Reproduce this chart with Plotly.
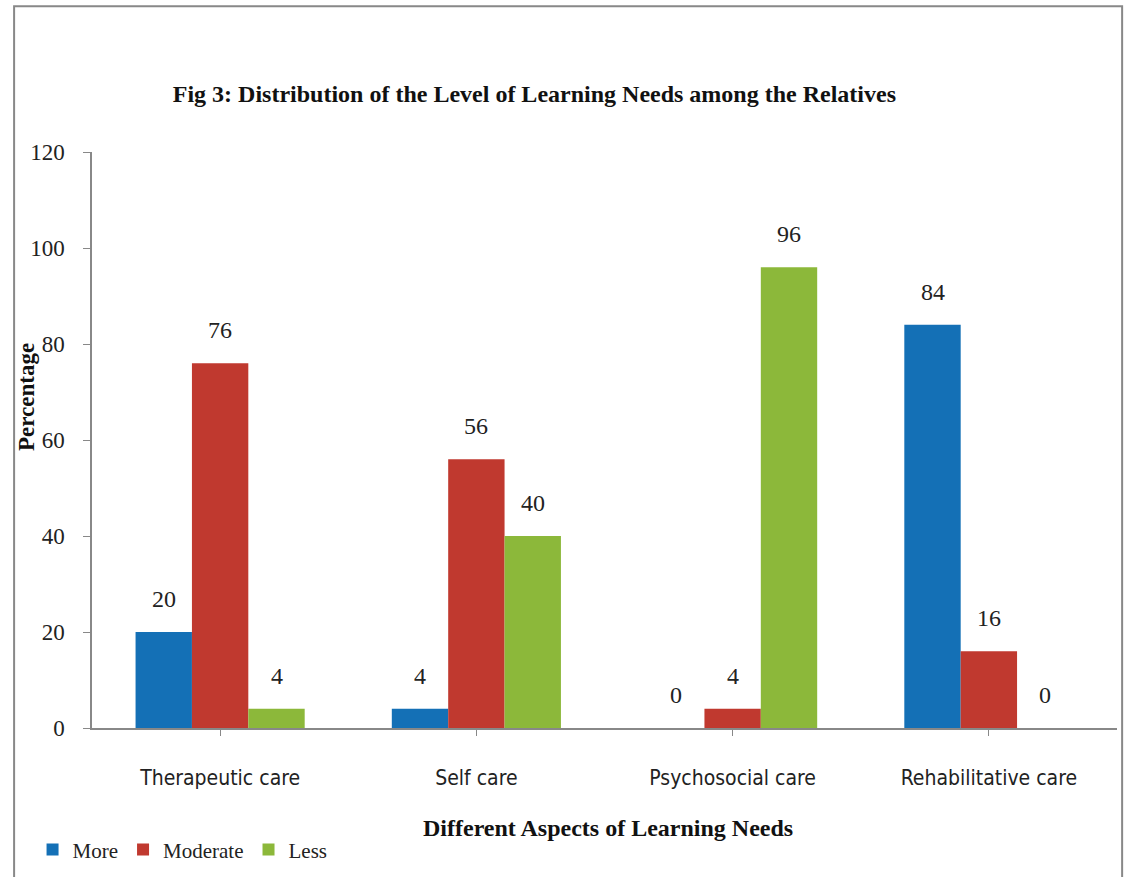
import plotly.graph_objects as go

# Data
categories = ["Therapeutic care", "Self care", "Psychosocial care", "Rehabilitative care"]
series_names = ["More", "Moderate", "Less"]
more = [20, 4, 0, 84]
moderate = [76, 56, 4, 16]
less = [4, 40, 96, 0]
y_ticks = [0, 20, 40, 60, 80, 100, 120]

colors = ["#1470b6", "#c0392f", "#8cb83a"]
series_values = [more, moderate, less]

SERIF = "Liberation Serif, Times New Roman, serif"
SANS_NARROW = "Liberation Sans Narrow, DejaVu Sans Condensed, Liberation Sans, sans-serif"

W, H = 1125, 877
ML, MR, MT, MB = 92, 8, 152, 149
PW, PH = W - ML - MR, H - MT - MB


def px_to_paper(px, py):
    """Convert page pixel coordinates to paper fractions."""
    return (px - ML) / PW, (H - MB - py) / PH


bargap = 0.34
fig = go.Figure()
for name, vals, col in zip(series_names, series_values, colors):
    fig.add_trace(go.Bar(
        name=name,
        x=list(range(len(categories))),
        y=vals,
        marker=dict(color=col, line=dict(width=0)),
    ))

# value labels above each bar
bar_w = (1 - bargap) / len(series_names)
for k, vals in enumerate(series_values):
    offset = (k - (len(series_names) - 1) / 2) * bar_w
    for i, v in enumerate(vals):
        fig.add_annotation(
            x=i + offset, y=v, xref="x", yref="y",
            text=str(v), showarrow=False,
            yanchor="middle", yshift=33,
            font=dict(family=SERIF, size=24, color="#222"),
        )

# rotated y-axis title
yx, yy = px_to_paper(26, 397)
fig.add_annotation(
    x=yx, y=yy, xref="paper", yref="paper",
    text="<b>Percentage</b>", showarrow=False, textangle=-90,
    xanchor="center", yanchor="middle",
    font=dict(family=SERIF, size=23, color="#111"),
)

# x-axis title
tx, ty = px_to_paper(608, 828)
fig.add_annotation(
    x=tx, y=ty, xref="paper", yref="paper",
    text="<b>Different Aspects of Learning Needs</b>", showarrow=False,
    xanchor="center", yanchor="middle",
    font=dict(family=SERIF, size=24, color="#111"),
)

fig.update_layout(
    width=W, height=H,
    barmode="group", bargap=bargap, bargroupgap=0,
    paper_bgcolor="white", plot_bgcolor="white",
    margin=dict(l=ML, r=MR, t=MT, b=MB, autoexpand=False),
    title=dict(
        text="<b>Fig 3: Distribution of the Level of Learning Needs among the Relatives</b>",
        x=0.475, xanchor="center", y=0.893, yanchor="middle",
        font=dict(family=SERIF, size=24, color="#111"),
    ),
    showlegend=True,
    legend=dict(
        orientation="h", x=-0.058, xanchor="left", y=0.031, yanchor="middle",
        xref="paper", yref="container",
        font=dict(family=SERIF, size=21, color="#222"),
        itemwidth=30, itemsizing="constant", traceorder="normal",
        bgcolor="rgba(0,0,0,0)",
    ),
    xaxis=dict(
        tickmode="array",
        tickvals=list(range(len(categories))),
        ticktext=categories,
        range=[-0.5, len(categories) - 0.5],
        tickson="boundaries",
        ticks="outside", ticklen=6, tickcolor="#888",
        showline=True, linecolor="#888", linewidth=1.5,
        showgrid=False, zeroline=False, automargin=False,
        ticklabelstandoff=24,
        tickfont=dict(family=SANS_NARROW, size=21, color="#222"),
    ),
    yaxis=dict(
        range=[0, 120],
        tickmode="array", tickvals=y_ticks,
        ticks="outside", ticklen=7, tickcolor="#888",
        showline=True, linecolor="#888", linewidth=1.5,
        showgrid=False, zeroline=False, automargin=False,
        ticklabelstandoff=14,
        tickfont=dict(family=SERIF, size=23, color="#222"),
    ),
    shapes=[dict(
        type="rect", xref="paper", yref="paper",
        x0=-0.076, x1=1.005, y0=-0.3, y1=1.253,
        line=dict(color="#888", width=2), fillcolor="rgba(0,0,0,0)",
        layer="below",
    )],
)

fig.write_html("out.html")
